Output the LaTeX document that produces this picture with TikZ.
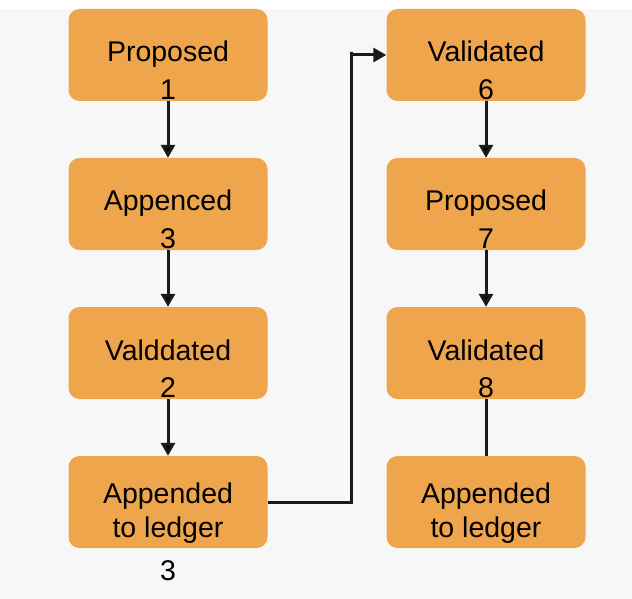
\documentclass[tikz,border=0pt]{standalone}
\usepackage{fontspec}
\setmainfont{Liberation Sans}
\usepackage{tikz}
\usetikzlibrary{arrows.meta, positioning}
\usepackage{xcolor}
\definecolor{boxorange}{RGB}{239,165,75}
\definecolor{bggray}{RGB}{247,247,247}
\definecolor{linedark}{RGB}{26,26,26}

\begin{document}
\begin{tikzpicture}[x=1pt,y=-1pt,node distance=149pt,on grid,>={Triangle[length=13pt,width=14pt]}]
    \tikzstyle{stage}=[shape=rectangle,rounded corners=11pt,fill=boxorange,minimum width=199pt,minimum height=92pt,align=center,font=\fontsize{28.5}{35}\selectfont,inner sep=0pt,text height=21pt,text depth=7pt]
    \tikzstyle{num}=[font=\fontsize{28.5}{33}\selectfont,inner sep=0pt]
    \tikzstyle{flow}=[draw=linedark,line width=3pt]

    \useasboundingbox (0,0) rectangle (632,599);
    \fill[white] (0,0) rectangle (632,599);
    \fill[bggray] (0,9) rectangle (632,599);

    \node[stage] (A1) at (168,55) {Proposed};
    \node[stage,below of=A1] (A2) {Appenced};
    \node[stage,below of=A2] (A3) {Valddated};
    \node[stage,below of=A3] (A4) {\raisebox{-28pt}[0pt][0pt]{\shortstack{Appended\\[4pt]to ledger}}};

    \node[stage] (B1) at (486,55) {Validated};
    \node[stage,below of=B1] (B2) {Proposed};
    \node[stage,below of=B2] (B3) {Validated};
    \node[stage,below of=B3] (B4) {\raisebox{-28pt}[0pt][0pt]{\shortstack{Appended\\[4pt]to ledger}}};

    % step numbers
    \node[num] (n1) at ([yshift=12pt]A1.south) {1};
    \node[num] (n2) at ([yshift=12pt]A2.south) {3};
    \node[num] (n3) at ([yshift=12pt]A3.south) {2};
    \node[num] (n4) at ([yshift=-22pt]A4.south) {3};
    \node[num] (n6) at ([yshift=12pt]B1.south) {6};
    \node[num] (n7) at ([yshift=12pt]B2.south) {7};
    \node[num] (n8) at ([yshift=12pt]B3.south) {8};

    \coordinate (bend) at (351,52);

    \path[->,flow]
    (A1) edge (A2)
    (A2) edge (A3)
    (A3) edge (A4)
    (B1) edge (B2)
    (B2) edge (B3)
    ;
    \draw[flow] (B3) -- (B4);
    \draw[->,flow] (A4.east) -| (bend) |- (B1.west);

  \end{tikzpicture}
\end{document}
